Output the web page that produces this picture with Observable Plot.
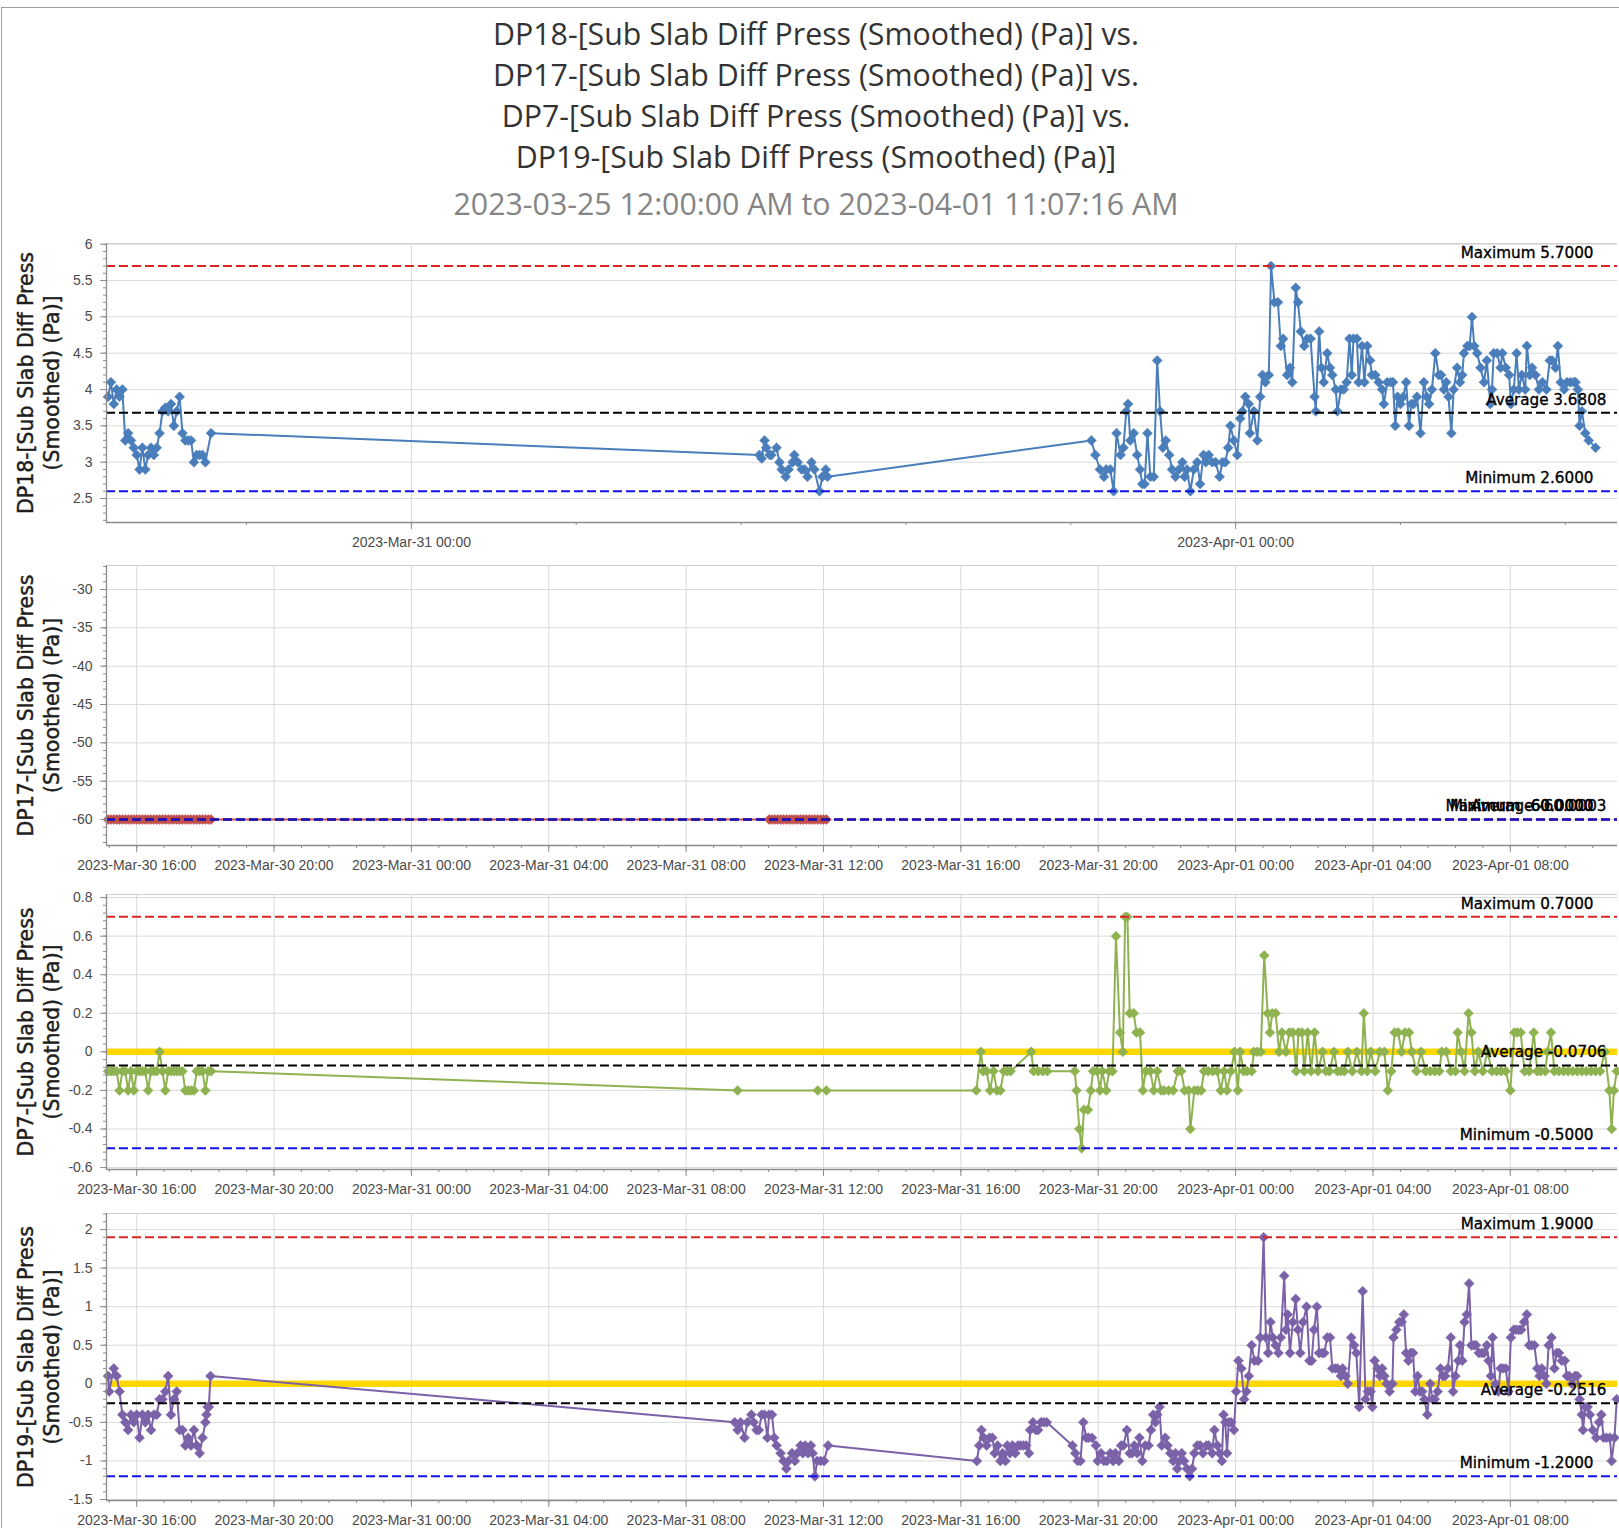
<!DOCTYPE html>
<html>
<head>
<meta charset="utf-8">
<script src="https://cdn.jsdelivr.net/npm/d3@7"></script>
<script src="https://cdn.jsdelivr.net/npm/@observablehq/plot@0.6"></script>
<style>
html, body { margin: 0; padding: 0; background: #fff; }
#page { position: relative; width: 1619px; height: 1528px; overflow: hidden; background: #fff; }
#frame { position: absolute; left: 1px; top: 7px; right: -2px; bottom: -2px; border-left: 1px solid #a0a0a0; border-top: 1px solid #a0a0a0; }
.t { position: absolute; left: 0; width: 1632px; height: 41px; line-height: 41px; text-align: center;
     font-family: "Open Sans", sans-serif; font-size: 30.3px; color: #333; white-space: nowrap; }
.sub { color: #858585; }
.panel { position: absolute; left: 0; }
</style>
</head>
<body>
<div id="page">
  <div id="frame"></div>
  <div class="t" id="t1" style="top:13px"></div>
  <div class="t" id="t2" style="top:54px"></div>
  <div class="t" id="t3" style="top:95px"></div>
  <div class="t" id="t4" style="top:136px"></div>
  <div class="t sub" id="t5" style="top:183px"></div>
</div>
<script>
// ---------- text ----------
const titleLines = [
  "DP18-[Sub Slab Diff Press (Smoothed) (Pa)] vs.",
  "DP17-[Sub Slab Diff Press (Smoothed) (Pa)] vs.",
  "DP7-[Sub Slab Diff Press (Smoothed) (Pa)] vs.",
  "DP19-[Sub Slab Diff Press (Smoothed) (Pa)]"
];
const subtitle = "2023-03-25 12:00:00 AM to 2023-04-01 11:07:16 AM";

// ---------- axes ----------
const xDomain = ["2023-03-30T15:07:16", "2023-04-01T11:07:16"];
const xTicksTop = ["2023-03-31T00:00", "2023-04-01T00:00"];
const xLabelsTop = ["2023-Mar-31 00:00", "2023-Apr-01 00:00"];
const xTicks = ["2023-03-30T16:00", "2023-03-30T20:00", "2023-03-31T00:00", "2023-03-31T04:00", "2023-03-31T08:00",
  "2023-03-31T12:00", "2023-03-31T16:00", "2023-03-31T20:00", "2023-04-01T00:00", "2023-04-01T04:00", "2023-04-01T08:00"];
const xLabels = ["2023-Mar-30 16:00", "2023-Mar-30 20:00", "2023-Mar-31 00:00", "2023-Mar-31 04:00", "2023-Mar-31 08:00",
  "2023-Mar-31 12:00", "2023-Mar-31 16:00", "2023-Mar-31 20:00", "2023-Apr-01 00:00", "2023-Apr-01 04:00", "2023-Apr-01 08:00"];

const dp18Ticks = [2.5, 3, 3.5, 4, 4.5, 5, 5.5, 6];
const dp17Ticks = [-60, -55, -50, -45, -40, -35, -30];
const dp7Ticks = [-0.6, -0.4, -0.2, 0, 0.2, 0.4, 0.6, 0.8];
const dp19Ticks = [-1.5, -1, -0.5, 0, 0.5, 1, 1.5, 2];

// statistics: [maximum, average, minimum]
const dp18Stats = [5.7, 3.6808, 2.6];
const dp17Stats = [-60, -60.0003, -60];
const dp7Stats = [0.7, -0.0706, -0.5];
const dp19Stats = [1.9, -0.2516, -1.2];
const dp18StatLabels = ["Maximum 5.7000", "Average 3.6808", "Minimum 2.6000"];
const dp17StatLabels = ["Maximum -60.0000", "Average -60.0003", "Minimum -60.0000"];
const dp7StatLabels = ["Maximum 0.7000", "Average -0.0706", "Minimum -0.5000"];
const dp19StatLabels = ["Maximum 1.9000", "Average -0.2516", "Minimum -1.2000"];

// ---------- series ----------
const dp18 = [
["03-30 15:10",3.9],["03-30 15:15",4.1],["03-30 15:20",3.8],["03-30 15:25",4.0],["03-30 15:30",3.9],["03-30 15:35",4.0],
["03-30 15:40",3.3],["03-30 15:45",3.4],["03-30 15:50",3.3],["03-30 15:55",3.2],["03-30 16:00",3.1],["03-30 16:05",2.9],
["03-30 16:10",3.2],["03-30 16:15",2.9],["03-30 16:20",3.1],["03-30 16:25",3.2],["03-30 16:30",3.1],["03-30 16:35",3.2],
["03-30 16:40",3.4],["03-30 16:45",3.7],["03-30 16:50",3.75],["03-30 16:55",3.7],["03-30 17:00",3.8],["03-30 17:05",3.5],
["03-30 17:10",3.7],["03-30 17:15",3.9],["03-30 17:20",3.4],["03-30 17:25",3.3],["03-30 17:30",3.3],["03-30 17:35",3.3],
["03-30 17:40",3.0],["03-30 17:45",3.1],["03-30 17:50",3.1],["03-30 17:55",3.1],["03-30 18:00",3.0],["03-30 18:10",3.4],
["03-31 10:08",3.1],["03-31 10:12",3.05],["03-31 10:17",3.3],["03-31 10:20",3.2],["03-31 10:26",3.1],["03-31 10:29",3.1],
["03-31 10:38",3.2],["03-31 10:43",3.0],["03-31 10:47",2.9],["03-31 10:54",2.8],["03-31 10:59",2.9],["03-31 11:06",3.0],
["03-31 11:09",3.1],["03-31 11:15",3.0],["03-31 11:22",2.9],["03-31 11:27",2.9],["03-31 11:32",2.8],["03-31 11:39",3.0],
["03-31 11:44",2.9],["03-31 11:53",2.6],["03-31 11:58",2.8],["03-31 12:04",2.9],["03-31 12:07",2.8],
["03-31 19:48",3.3],["03-31 19:55",3.1],["03-31 20:03",2.9],["03-31 20:10",2.8],["03-31 20:14",2.9],["03-31 20:21",2.9],
["03-31 20:27",2.6],["03-31 20:32",3.4],["03-31 20:39",3.1],["03-31 20:44",3.2],["03-31 20:49",3.7],["03-31 20:52",3.8],
["03-31 20:56",3.3],["03-31 21:02",3.4],["03-31 21:08",3.1],["03-31 21:13",2.9],["03-31 21:17",2.7],["03-31 21:21",2.7],
["03-31 21:26",3.4],["03-31 21:31",2.8],["03-31 21:37",2.8],["03-31 21:43",4.4],["03-31 21:48",3.7],["03-31 21:53",3.2],
["03-31 21:58",3.3],["03-31 22:04",3.1],["03-31 22:09",2.9],["03-31 22:15",2.8],["03-31 22:21",2.9],["03-31 22:27",3.0],
["03-31 22:31",2.8],["03-31 22:35",2.9],["03-31 22:41",2.6],["03-31 22:47",2.9],["03-31 22:53",3.0],["03-31 22:58",2.7],
["03-31 23:04",3.1],["03-31 23:08",3.0],["03-31 23:13",3.1],["03-31 23:19",3.0],["03-31 23:25",3.0],["03-31 23:32",2.8],
["03-31 23:37",3.0],["03-31 23:42",3.0],["03-31 23:47",3.2],["03-31 23:51",3.5],["03-31 23:57",3.3],["04-01 00:03",3.1],
["04-01 00:08",3.6],["04-01 00:12",3.7],["04-01 00:17",3.9],["04-01 00:23",3.8],["04-01 00:25",3.4],["04-01 00:32",3.7],
["04-01 00:38",3.3],["04-01 00:43",3.9],["04-01 00:47",4.2],["04-01 00:52",4.1],["04-01 00:58",4.2],["04-01 01:02",5.7],
["04-01 01:08",5.2],["04-01 01:14",5.2],["04-01 01:19",4.6],["04-01 01:23",4.7],["04-01 01:30",4.2],["04-01 01:35",4.3],
["04-01 01:39",4.1],["04-01 01:45",5.4],["04-01 01:49",5.2],["04-01 01:54",4.8],["04-01 02:00",4.6],["04-01 02:05",4.7],
["04-01 02:11",4.7],["04-01 02:18",3.9],["04-01 02:20",3.7],["04-01 02:26",4.8],["04-01 02:30",4.3],["04-01 02:34",4.1],
["04-01 02:40",4.5],["04-01 02:45",4.3],["04-01 02:49",4.2],["04-01 02:55",4.0],["04-01 02:58",3.7],["04-01 03:04",4.0],
["04-01 03:09",4.0],["04-01 03:14",4.1],["04-01 03:19",4.7],["04-01 03:23",4.2],["04-01 03:26",4.7],["04-01 03:32",4.7],
["04-01 03:35",4.1],["04-01 03:41",4.6],["04-01 03:45",4.1],["04-01 03:50",4.6],["04-01 03:55",4.4],["04-01 03:58",4.2],
["04-01 04:04",4.2],["04-01 04:10",4.1],["04-01 04:16",4.0],["04-01 04:19",3.8],["04-01 04:25",4.1],["04-01 04:31",4.1],
["04-01 04:35",4.1],["04-01 04:39",3.5],["04-01 04:43",3.9],["04-01 04:48",3.8],["04-01 04:53",3.9],["04-01 04:58",4.1],
["04-01 05:03",3.5],["04-01 05:07",3.8],["04-01 05:11",3.8],["04-01 05:17",3.9],["04-01 05:23",3.4],["04-01 05:29",4.1],
["04-01 05:34",3.9],["04-01 05:38",3.8],["04-01 05:43",4.0],["04-01 05:49",4.5],["04-01 05:55",4.2],["04-01 05:59",4.2],
["04-01 06:04",4.0],["04-01 06:08",4.1],["04-01 06:12",3.9],["04-01 06:17",3.4],["04-01 06:21",4.0],["04-01 06:27",4.3],
["04-01 06:32",4.1],["04-01 06:36",4.2],["04-01 06:39",4.5],["04-01 06:45",4.6],["04-01 06:49",4.6],["04-01 06:53",5.0],
["04-01 06:57",4.6],["04-01 07:02",4.5],["04-01 07:08",4.3],["04-01 07:14",4.1],["04-01 07:19",4.4],["04-01 07:25",3.8],
["04-01 07:28",4.0],["04-01 07:31",4.5],["04-01 07:37",4.5],["04-01 07:43",4.3],["04-01 07:46",4.5],["04-01 07:52",4.3],
["04-01 07:58",4.2],["04-01 08:01",3.8],["04-01 08:06",4.0],["04-01 08:11",4.5],["04-01 08:15",4.0],["04-01 08:20",4.2],
["04-01 08:26",4.0],["04-01 08:29",4.6],["04-01 08:34",4.2],["04-01 08:38",4.3],["04-01 08:44",4.2],["04-01 08:50",4.0],
["04-01 08:56",4.1],["04-01 09:03",4.0],["04-01 09:09",4.4],["04-01 09:13",4.4],["04-01 09:19",4.3],["04-01 09:23",4.6],
["04-01 09:28",4.1],["04-01 09:34",4.0],["04-01 09:39",4.1],["04-01 09:45",4.1],["04-01 09:51",4.1],["04-01 09:54",4.1],
["04-01 09:58",4.0],["04-01 10:01",3.5],["04-01 10:05",3.7],["04-01 10:11",3.4],["04-01 10:17",3.3],["04-01 10:29",3.2]
];

const dp17 = [
["03-30 15:10",-60],["03-30 15:15",-60],["03-30 15:20",-60],["03-30 15:25",-60],["03-30 15:30",-60],["03-30 15:35",-60],
["03-30 15:40",-60],["03-30 15:45",-60],["03-30 15:50",-60],["03-30 15:55",-60],["03-30 16:00",-60],["03-30 16:05",-60],
["03-30 16:10",-60],["03-30 16:15",-60],["03-30 16:20",-60],["03-30 16:25",-60],["03-30 16:30",-60],["03-30 16:35",-60],
["03-30 16:40",-60],["03-30 16:45",-60],["03-30 16:50",-60],["03-30 16:55",-60],["03-30 17:00",-60],["03-30 17:05",-60],
["03-30 17:10",-60],["03-30 17:15",-60],["03-30 17:20",-60],["03-30 17:25",-60],["03-30 17:30",-60],["03-30 17:35",-60],
["03-30 17:40",-60],["03-30 17:45",-60],["03-30 17:50",-60],["03-30 17:55",-60],["03-30 18:00",-60],["03-30 18:05",-60],
["03-30 18:10",-60],
["03-31 10:25",-60],["03-31 10:30",-60],["03-31 10:35",-60],["03-31 10:40",-60],["03-31 10:45",-60],["03-31 10:50",-60],
["03-31 10:55",-60],["03-31 11:00",-60],["03-31 11:05",-60],["03-31 11:10",-60],["03-31 11:15",-60],["03-31 11:20",-60],
["03-31 11:25",-60],["03-31 11:30",-60],["03-31 11:35",-60],["03-31 11:40",-60],["03-31 11:45",-60],["03-31 11:50",-60],
["03-31 11:55",-60],["03-31 12:00",-60],["03-31 12:05",-60]
];

const dp7 = [
["03-30 15:10",-0.1],["03-30 15:15",-0.1],["03-30 15:20",-0.1],["03-30 15:25",-0.1],["03-30 15:30",-0.2],["03-30 15:35",-0.1],
["03-30 15:40",-0.1],["03-30 15:45",-0.2],["03-30 15:50",-0.1],["03-30 15:55",-0.2],["03-30 16:00",-0.1],["03-30 16:05",-0.1],
["03-30 16:10",-0.1],["03-30 16:15",-0.1],["03-30 16:20",-0.2],["03-30 16:25",-0.1],["03-30 16:30",-0.1],["03-30 16:35",-0.1],
["03-30 16:40",0],["03-30 16:45",-0.1],["03-30 16:50",-0.2],["03-30 16:55",-0.1],["03-30 17:00",-0.1],["03-30 17:05",-0.1],
["03-30 17:10",-0.1],["03-30 17:15",-0.1],["03-30 17:20",-0.1],["03-30 17:25",-0.2],["03-30 17:30",-0.2],["03-30 17:35",-0.2],
["03-30 17:40",-0.2],["03-30 17:45",-0.1],["03-30 17:50",-0.1],["03-30 17:55",-0.1],["03-30 18:00",-0.2],["03-30 18:05",-0.1],
["03-30 18:10",-0.1],
["03-31 09:30",-0.2],["03-31 11:50",-0.2],["03-31 12:05",-0.2],
["03-31 16:27",-0.2],["03-31 16:35",0],["03-31 16:39",-0.1],["03-31 16:45",-0.1],["03-31 16:51",-0.2],["03-31 16:57",-0.1],
["03-31 17:03",-0.2],["03-31 17:09",-0.2],["03-31 17:15",-0.1],["03-31 17:21",-0.1],["03-31 17:27",-0.1],["03-31 18:03",0],
["03-31 18:07",-0.1],["03-31 18:15",-0.1],["03-31 18:23",-0.1],["03-31 18:31",-0.1],["03-31 19:19",-0.1],["03-31 19:22",-0.2],
["03-31 19:27",-0.4],["03-31 19:31",-0.5],["03-31 19:35",-0.3],["03-31 19:42",-0.3],["03-31 19:47",-0.2],["03-31 19:51",-0.1],
["03-31 19:58",-0.1],["03-31 20:03",-0.2],["03-31 20:07",-0.1],["03-31 20:14",-0.2],["03-31 20:19",-0.1],["03-31 20:25",-0.1],
["03-31 20:31",0.6],["03-31 20:38",0.1],["03-31 20:43",0],["03-31 20:47",0.7],["03-31 20:51",0.7],["03-31 20:55",0.2],
["03-31 21:02",0.2],["03-31 21:07",0.1],["03-31 21:13",0.1],["03-31 21:18",-0.2],["03-31 21:23",-0.1],["03-31 21:31",-0.1],
["03-31 21:37",-0.2],["03-31 21:43",-0.1],["03-31 21:50",-0.2],["03-31 21:55",-0.2],["03-31 22:03",-0.2],["03-31 22:11",-0.2],
["03-31 22:19",-0.1],["03-31 22:25",-0.1],["03-31 22:31",-0.2],["03-31 22:38",-0.2],["03-31 22:41",-0.4],["03-31 22:48",-0.2],
["03-31 22:54",-0.2],["03-31 23:00",-0.2],["03-31 23:05",-0.1],["03-31 23:12",-0.1],["03-31 23:20",-0.1],["03-31 23:28",-0.1],
["03-31 23:34",-0.2],["03-31 23:40",-0.1],["03-31 23:45",-0.2],["03-31 23:52",-0.1],["03-31 23:58",0],
["04-01 00:04",-0.2],["04-01 00:08",0],["04-01 00:14",-0.1],["04-01 00:20",-0.1],["04-01 00:28",-0.1],["04-01 00:32",0],
["04-01 00:38",0],["04-01 00:44",0],["04-01 00:50",0.5],["04-01 00:56",0.2],["04-01 01:00",0.1],["04-01 01:04",0.2],
["04-01 01:10",0.2],["04-01 01:16",0],["04-01 01:21",0.1],["04-01 01:28",0],["04-01 01:34",0.1],["04-01 01:40",0.1],
["04-01 01:46",-0.1],["04-01 01:50",0.1],["04-01 01:56",0.1],["04-01 02:00",-0.1],["04-01 02:06",0.1],["04-01 02:12",-0.1],
["04-01 02:18",0.1],["04-01 02:24",-0.1],["04-01 02:32",0],["04-01 02:38",-0.1],["04-01 02:44",-0.1],["04-01 02:52",0],
["04-01 02:58",-0.1],["04-01 03:04",-0.1],["04-01 03:10",-0.1],["04-01 03:16",0],["04-01 03:24",-0.1],["04-01 03:32",0],
["04-01 03:40",-0.1],["04-01 03:44",0.2],["04-01 03:50",-0.1],["04-01 03:56",0],["04-01 04:04",-0.1],["04-01 04:12",0],
["04-01 04:20",0],["04-01 04:26",-0.2],["04-01 04:32",-0.1],["04-01 04:38",0.1],["04-01 04:44",0.1],["04-01 04:50",0],
["04-01 04:56",0.1],["04-01 05:03",0.1],["04-01 05:08",0],["04-01 05:16",-0.1],["04-01 05:24",0],["04-01 05:32",-0.1],
["04-01 05:40",-0.1],["04-01 05:48",-0.1],["04-01 05:56",-0.1],["04-01 06:00",0],["04-01 06:08",0],["04-01 06:16",-0.1],
["04-01 06:24",-0.1],["04-01 06:28",0.1],["04-01 06:34",0],["04-01 06:40",-0.1],["04-01 06:47",0.2],["04-01 06:52",0.1],
["04-01 06:58",-0.1],["04-01 07:04",0],["04-01 07:12",-0.1],["04-01 07:20",0],["04-01 07:28",-0.1],["04-01 07:36",-0.1],
["04-01 07:44",-0.1],["04-01 07:52",-0.1],["04-01 08:00",-0.2],["04-01 08:07",0.1],["04-01 08:12",0.1],["04-01 08:18",0.1],
["04-01 08:25",-0.1],["04-01 08:33",-0.1],["04-01 08:41",0.1],["04-01 08:47",-0.1],["04-01 08:53",-0.1],["04-01 09:01",-0.1],
["04-01 09:05",0],["04-01 09:11",0.1],["04-01 09:17",-0.1],["04-01 09:25",-0.1],["04-01 09:33",-0.1],["04-01 09:41",-0.1],
["04-01 09:49",-0.1],["04-01 09:57",-0.1],["04-01 10:05",-0.1],["04-01 10:13",-0.1],["04-01 10:21",-0.1],["04-01 10:29",-0.1],
["04-01 10:37",-0.1],["04-01 10:45",0],["04-01 10:53",-0.2],["04-01 10:57",-0.4],["04-01 11:01",-0.2],["04-01 11:06",-0.1]
];

const dp19 = [
["03-30 15:10",0.1],["03-30 15:12",-0.1],["03-30 15:20",0.2],["03-30 15:25",0.1],["03-30 15:30",-0.1],["03-30 15:35",-0.4],
["03-30 15:40",-0.5],["03-30 15:45",-0.6],["03-30 15:50",-0.4],["03-30 15:55",-0.5],["03-30 16:00",-0.4],["03-30 16:05",-0.7],
["03-30 16:10",-0.4],["03-30 16:15",-0.5],["03-30 16:20",-0.4],["03-30 16:25",-0.6],["03-30 16:30",-0.4],["03-30 16:35",-0.4],
["03-30 16:40",-0.2],["03-30 16:45",-0.2],["03-30 16:50",-0.1],["03-30 16:55",0.1],["03-30 17:00",-0.4],["03-30 17:05",-0.2],
["03-30 17:10",-0.1],["03-30 17:15",-0.6],["03-30 17:20",-0.6],["03-30 17:25",-0.8],["03-30 17:30",-0.7],["03-30 17:35",-0.8],
["03-30 17:40",-0.6],["03-30 17:45",-0.8],["03-30 17:50",-0.9],["03-30 17:55",-0.7],["03-30 18:00",-0.5],["03-30 18:02",-0.4],
["03-30 18:04",-0.3],["03-30 18:06",-0.3],["03-30 18:09",0.1],
["03-31 09:25",-0.5],["03-31 09:30",-0.6],["03-31 09:35",-0.5],["03-31 09:42",-0.7],["03-31 09:47",-0.5],["03-31 09:54",-0.4],
["03-31 09:58",-0.5],["03-31 10:03",-0.6],["03-31 10:07",-0.6],["03-31 10:12",-0.4],["03-31 10:17",-0.4],["03-31 10:22",-0.7],
["03-31 10:25",-0.4],["03-31 10:30",-0.4],["03-31 10:34",-0.7],["03-31 10:38",-0.8],["03-31 10:45",-0.9],["03-31 10:50",-1.0],
["03-31 10:55",-1.1],["03-31 10:59",-1.0],["03-31 11:05",-0.9],["03-31 11:10",-1.0],["03-31 11:14",-0.9],["03-31 11:20",-0.8],
["03-31 11:24",-0.9],["03-31 11:28",-0.8],["03-31 11:33",-0.9],["03-31 11:38",-0.8],["03-31 11:41",-0.9],["03-31 11:45",-1.2],
["03-31 11:49",-1.0],["03-31 11:55",-1.0],["03-31 12:01",-1.0],["03-31 12:08",-0.8],
["03-31 16:28",-1.0],["03-31 16:32",-0.8],["03-31 16:36",-0.6],["03-31 16:40",-0.7],["03-31 16:45",-0.8],["03-31 16:50",-0.7],
["03-31 16:55",-0.7],["03-31 16:59",-0.9],["03-31 17:04",-0.8],["03-31 17:09",-1.0],["03-31 17:13",-0.9],["03-31 17:18",-1.0],
["03-31 17:21",-0.8],["03-31 17:26",-0.9],["03-31 17:30",-0.8],["03-31 17:35",-0.9],["03-31 17:40",-0.8],["03-31 17:44",-0.8],
["03-31 17:49",-0.8],["03-31 17:54",-0.8],["03-31 17:59",-0.9],["03-31 18:01",-0.6],["03-31 18:06",-0.5],["03-31 18:11",-0.6],
["03-31 18:15",-0.6],["03-31 18:20",-0.5],["03-31 18:25",-0.5],["03-31 18:30",-0.5],["03-31 19:15",-0.8],["03-31 19:20",-0.9],
["03-31 19:24",-1.0],["03-31 19:29",-1.0],["03-31 19:34",-0.5],["03-31 19:39",-0.7],["03-31 19:43",-0.7],["03-31 19:49",-0.7],
["03-31 19:56",-0.8],["03-31 19:59",-1.0],["03-31 20:05",-0.9],["03-31 20:10",-1.0],["03-31 20:15",-1.0],["03-31 20:21",-0.9],
["03-31 20:26",-1.0],["03-31 20:30",-0.9],["03-31 20:36",-1.0],["03-31 20:40",-0.8],["03-31 20:44",-0.8],["03-31 20:50",-0.6],
["03-31 20:55",-0.9],["03-31 20:59",-0.9],["03-31 21:03",-0.8],["03-31 21:08",-0.9],["03-31 21:12",-0.7],["03-31 21:17",-1.0],
["03-31 21:22",-0.8],["03-31 21:28",-0.8],["03-31 21:32",-0.6],["03-31 21:36",-0.4],["03-31 21:40",-0.5],["03-31 21:43",-0.4],
["03-31 21:47",-0.3],["03-31 21:51",-0.8],["03-31 21:57",-0.7],["03-31 22:01",-0.8],["03-31 22:06",-0.9],["03-31 22:11",-1.0],
["03-31 22:15",-0.9],["03-31 22:18",-1.1],["03-31 22:22",-1.0],["03-31 22:26",-0.9],["03-31 22:30",-1.0],["03-31 22:35",-1.1],
["03-31 22:40",-1.2],["03-31 22:44",-1.1],["03-31 22:48",-0.9],["03-31 22:53",-0.8],["03-31 22:58",-0.8],["03-31 23:03",-0.9],
["03-31 23:09",-0.8],["03-31 23:13",-0.8],["03-31 23:19",-0.9],["03-31 23:23",-0.6],["03-31 23:28",-0.8],["03-31 23:32",-0.9],
["03-31 23:36",-1.0],["03-31 23:39",-0.4],["03-31 23:42",-0.5],["03-31 23:45",-0.9],["03-31 23:48",-0.5],["03-31 23:52",-0.5],
["03-31 23:57",-0.6],
["04-01 00:01",-0.1],["04-01 00:05",0.3],["04-01 00:10",0.2],["04-01 00:15",-0.2],["04-01 00:19",-0.1],["04-01 00:23",0.1],
["04-01 00:28",0.5],["04-01 00:33",0.3],["04-01 00:39",0.3],["04-01 00:43",0.6],["04-01 00:49",1.9],["04-01 00:53",0.6],
["04-01 00:57",0.4],["04-01 01:01",0.8],["04-01 01:05",0.6],["04-01 01:10",0.5],["04-01 01:15",0.4],["04-01 01:19",0.6],
["04-01 01:25",1.4],["04-01 01:28",0.7],["04-01 01:31",0.9],["04-01 01:35",0.4],["04-01 01:40",0.8],["04-01 01:45",1.1],
["04-01 01:49",0.7],["04-01 01:53",0.4],["04-01 01:58",0.8],["04-01 02:04",1.0],["04-01 02:09",0.3],["04-01 02:13",0.3],
["04-01 02:17",0.7],["04-01 02:22",1.0],["04-01 02:26",0.4],["04-01 02:31",0.4],["04-01 02:35",0.4],["04-01 02:40",0.6],
["04-01 02:45",0.6],["04-01 02:49",0.2],["04-01 02:54",0.2],["04-01 02:58",0.2],["04-01 03:04",0.1],["04-01 03:07",0.2],
["04-01 03:12",0.1],["04-01 03:16",0.0],["04-01 03:22",0.6],["04-01 03:27",0.5],["04-01 03:31",0.4],["04-01 03:36",-0.3],
["04-01 03:42",1.2],["04-01 03:47",-0.2],["04-01 03:51",-0.1],["04-01 03:56",-0.1],["04-01 03:59",-0.3],["04-01 04:03",0.3],
["04-01 04:08",0.2],["04-01 04:12",0.1],["04-01 04:16",0.2],["04-01 04:20",0.1],["04-01 04:24",0.0],["04-01 04:29",-0.1],
["04-01 04:34",0.0],["04-01 04:36",0.6],["04-01 04:41",0.7],["04-01 04:46",0.8],["04-01 04:50",0.8],["04-01 04:54",0.9],
["04-01 04:58",0.4],["04-01 05:02",0.3],["04-01 05:06",0.4],["04-01 05:10",0.4],["04-01 05:14",-0.1],["04-01 05:18",0.1],
["04-01 05:22",-0.1],["04-01 05:26",-0.1],["04-01 05:30",-0.2],["04-01 05:35",-0.4],["04-01 05:40",0.0],["04-01 05:44",-0.2],
["04-01 05:48",-0.2],["04-01 05:53",-0.1],["04-01 05:58",0.2],["04-01 06:02",0.1],["04-01 06:06",0.1],["04-01 06:11",0.2],
["04-01 06:16",0.6],["04-01 06:20",-0.1],["04-01 06:24",0.1],["04-01 06:29",0.3],["04-01 06:32",0.5],["04-01 06:36",0.3],
["04-01 06:40",0.8],["04-01 06:44",0.9],["04-01 06:48",1.3],["04-01 06:52",0.5],["04-01 06:56",0.5],["04-01 07:00",0.5],
["04-01 07:05",0.4],["04-01 07:10",0.4],["04-01 07:14",0.4],["04-01 07:19",0.5],["04-01 07:22",0.3],["04-01 07:26",0.1],
["04-01 07:29",0.6],["04-01 07:34",0.0],["04-01 07:39",-0.1],["04-01 07:43",0.2],["04-01 07:47",0.2],["04-01 07:52",0.2],
["04-01 07:57",-0.1],["04-01 08:01",0.6],["04-01 08:06",0.7],["04-01 08:10",0.7],["04-01 08:15",0.7],["04-01 08:19",0.7],
["04-01 08:24",0.8],["04-01 08:29",0.9],["04-01 08:33",0.5],["04-01 08:37",0.5],["04-01 08:42",0.5],["04-01 08:47",0.2],
["04-01 08:51",0.1],["04-01 08:55",0.2],["04-01 09:00",0.1],["04-01 09:03",0.0],["04-01 09:07",0.5],["04-01 09:12",0.6],
["04-01 09:17",0.2],["04-01 09:21",0.4],["04-01 09:25",0.4],["04-01 09:30",0.3],["04-01 09:35",0.3],["04-01 09:39",0.1],
["04-01 09:43",0.1],["04-01 09:48",0.0],["04-01 09:53",0.1],["04-01 09:57",0.1],["04-01 10:01",-0.2],["04-01 10:05",-0.4],
["04-01 10:07",-0.6],["04-01 10:11",-0.3],["04-01 10:15",-0.3],["04-01 10:19",-0.4],["04-01 10:24",-0.6],["04-01 10:30",-0.7],
["04-01 10:35",-0.5],["04-01 10:39",-0.4],["04-01 10:43",-0.7],["04-01 10:48",-0.7],["04-01 10:54",-0.7],["04-01 10:57",-1.0],
["04-01 11:02",-0.7],["04-01 11:06",-0.2]
];

// ---------- rendering ----------
document.getElementById("t1").textContent = titleLines[0];
document.getElementById("t2").textContent = titleLines[1];
document.getElementById("t3").textContent = titleLines[2];
document.getElementById("t4").textContent = titleLines[3];
document.getElementById("t5").textContent = subtitle;

const parseT = s => new Date("2023-" + s.replace(" ", "T") + ":00");
const rows = arr => arr.map(([t, v]) => ({t: parseT(t), v}));
const x0 = new Date(xDomain[0]), x1 = new Date(xDomain[1]);

function minorTimes(majorIso, stepHours) {
  const base = +new Date(majorIso[0]);
  const step = stepHours * 3600e3;
  const out = [];
  for (let k = -20; k < 200; k++) {
    const t = base + k * step;
    if (t > +x0 && t < +x1) out.push(new Date(t));
  }
  return out;
}
function minorVals(domain, step) {
  const out = [];
  const a = Math.ceil(domain[0] / step - 1e-9), b = Math.floor(domain[1] / step + 1e-9);
  for (let k = a; k <= b; k++) out.push(+(k * step).toFixed(6));
  return out;
}

const RED = "#dc2424", BLUE = "#1212e8", GRID = "#dadada", AXIS = "#8c8c8c";

function panel(o) {
  const majT = o.xTicks.map(d => new Date(d));
  const labelOf = new Map(majT.map((d, i) => [+d, o.xLabels[i]]));
  const marks = [
    Plot.ruleY(o.yTicks, {stroke: GRID, strokeWidth: 1}),
    Plot.ruleX(majT, {stroke: GRID, strokeWidth: 1}),
    Plot.ruleY([o.yDomain[1]], {stroke: "#d0d0d0"}),
  ];
  if (o.zero) marks.push(Plot.ruleY([0], {stroke: "#ffd700", strokeWidth: 6.5}));
  marks.push(
    Plot.line(o.data, {x: "t", y: "v", stroke: o.color, strokeWidth: 2}),
    Plot.dot(o.data, {x: "t", y: "v", symbol: "diamond2", r: 4.5, fill: o.color, stroke: o.color, strokeWidth: 0.5}),
    Plot.ruleY([o.stats[0]], {stroke: RED, strokeWidth: 2, strokeDasharray: "9,4"}),
    Plot.ruleY([o.stats[1]], {stroke: "#000", strokeWidth: 2, strokeDasharray: "9,4"}),
    Plot.ruleY([o.stats[2]], {stroke: BLUE, strokeWidth: 2, strokeDasharray: "9,4"}),
    Plot.ruleX([x0], {stroke: AXIS, strokeWidth: 1.3}),
    Plot.ruleY([o.yDomain[0]], {stroke: AXIS, strokeWidth: 1.3}),
    Plot.axisY(o.yTicks, {tickSize: 6, tickPadding: 8, stroke: AXIS, fill: "#4a4a4a", tickFormat: d => String(d), label: null}),
    Plot.axisY(minorVals(o.yDomain, o.yMinor), {tickSize: 3, stroke: AXIS, tickFormat: () => "", label: null}),
    Plot.axisX(majT, {tickSize: 7, tickPadding: 8, stroke: AXIS, fill: "#4a4a4a", tickFormat: d => labelOf.get(+d), label: null}),
    Plot.axisX(minorTimes(o.xTicks, o.xMinorH), {tickSize: 3, stroke: AXIS, tickFormat: () => "", label: null})
  );
  const dxs = [-24, -11, -24];
  [0, 2, 1].forEach(i => {
    marks.push(Plot.text([o.stats[i]], {y: d => d, text: () => o.statLabels[i], frameAnchor: "right", dx: dxs[i], dy: -13,
      textAnchor: "end", lineAnchor: "middle", fontFamily: "DejaVu Sans", fontSize: 15.2, fill: "#000",
      stroke: "#000", strokeWidth: 0.35}));
  });
  marks.push(
    Plot.text([o.label1], {text: d => d, frameAnchor: "left", rotate: -90, dx: -80, textAnchor: "middle", lineAnchor: "middle",
      fontFamily: "DejaVu Sans", fontSize: 20.5, fill: "#1e1e1e", stroke: "#1e1e1e", strokeWidth: 0.45}),
    Plot.text([o.label2], {text: d => d, frameAnchor: "left", rotate: -90, dx: -54, textAnchor: "middle", lineAnchor: "middle",
      fontFamily: "DejaVu Sans", fontSize: 20.5, fill: "#1e1e1e", stroke: "#1e1e1e", strokeWidth: 0.45})
  );
  const svg = Plot.plot({
    width: 1619, height: o.height,
    marginLeft: 106, marginRight: 2, marginTop: 13, marginBottom: o.mb,
    style: {fontFamily: "Liberation Sans, Arial, sans-serif", fontSize: "14px", background: "none", overflow: "visible", maxWidth: "none"},
    x: {type: "time", domain: [x0, x1], label: null},
    y: {domain: o.yDomain, label: null},
    marks
  });
  const wrap = document.createElement("div");
  wrap.className = "panel";
  wrap.style.top = o.top + "px";
  wrap.appendChild(svg);
  document.getElementById("page").appendChild(wrap);
}

panel({data: rows(dp18), color: "#4a7ebb", yDomain: [2.17, 6.01], yTicks: dp18Ticks, yMinor: 0.1,
  stats: dp18Stats, statLabels: dp18StatLabels, zero: false,
  xTicks: xTicksTop, xLabels: xLabelsTop, xMinorH: 4.8,
  label1: "DP18-[Sub Slab Diff Press", label2: "(Smoothed) (Pa)]", top: 230, height: 322, mb: 30});
panel({data: rows(dp17), color: "#c0504d", yDomain: [-63.39, -26.87], yTicks: dp17Ticks, yMinor: 1,
  stats: dp17Stats, statLabels: dp17StatLabels, zero: false,
  xTicks: xTicks, xLabels: xLabels, xMinorH: 0.8,
  label1: "DP17-[Sub Slab Diff Press", label2: "(Smoothed) (Pa)]", top: 552, height: 323, mb: 30});
panel({data: rows(dp7), color: "#8fb251", yDomain: [-0.61, 0.816], yTicks: dp7Ticks, yMinor: 0.04,
  stats: dp7Stats, statLabels: dp7StatLabels, zero: true,
  xTicks: xTicks, xLabels: xLabels, xMinorH: 0.8,
  label1: "DP7-[Sub Slab Diff Press", label2: "(Smoothed) (Pa)]", top: 881, height: 318, mb: 30});
panel({data: rows(dp19), color: "#7b62a8", yDomain: [-1.513, 2.208], yTicks: dp19Ticks, yMinor: 0.1,
  stats: dp19Stats, statLabels: dp19StatLabels, zero: true,
  xTicks: xTicks, xLabels: xLabels, xMinorH: 0.8,
  label1: "DP19-[Sub Slab Diff Press", label2: "(Smoothed) (Pa)]", top: 1200, height: 328, mb: 28});
</script>
</body>
</html>
